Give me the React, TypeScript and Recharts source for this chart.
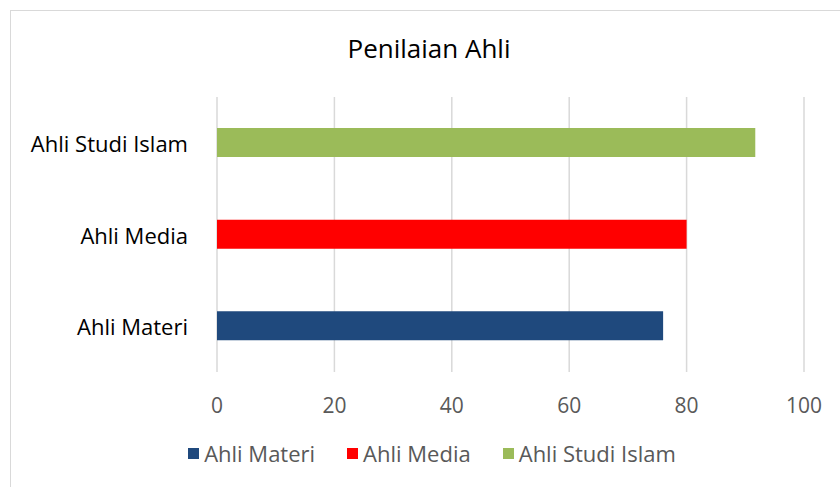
import React from "react";
import { BarChart, Bar, XAxis, YAxis, CartesianGrid, Legend } from "recharts";

const categories = ["Ahli Studi Islam", "Ahli Media", "Ahli Materi"];
const seriesNames = ["Ahli Materi", "Ahli Media", "Ahli Studi Islam"];
const seriesValues = [76, 80, 91.7];
const seriesColors = ["#1F497D", "#FF0000", "#9BBB59"];
const xTicks = [0, 20, 40, 60, 80, 100];
const title = "Penilaian Ahli";

const data = categories.map((cat) => {
  const row: Record<string, any> = { name: cat };
  seriesNames.forEach((s, i) => {
    row[s] = s === cat ? seriesValues[i] : 0;
  });
  return row;
});

const FONT = "'Open Sans', sans-serif";

const LegendContent = () => (
  <div
    style={{
      display: "flex",
      justifyContent: "center",
      alignItems: "center",
      height: 30,
      paddingLeft: 60,
      fontFamily: FONT,
      fontSize: 22,
      color: "#595959",
    }}
  >
    {seriesNames.map((s, i) => (
      <div key={s} style={{ display: "flex", alignItems: "center", marginRight: i < seriesNames.length - 1 ? 32 : 0 }}>
        <div style={{ width: 11, height: 11, background: seriesColors[i], marginRight: 5 }} />
        <span>{s}</span>
      </div>
    ))}
  </div>
);

const XTick = (props: any) => {
  const { x, y, payload } = props;
  return (
    <text x={x} y={y} textAnchor="middle" dominantBaseline="central" fill="#595959" fontFamily={FONT} fontSize={21}>
      {payload.value}
    </text>
  );
};

const YTick = (props: any) => {
  const { x, y, payload } = props;
  return (
    <text x={x} y={y} textAnchor="end" dominantBaseline="central" fill="#000000" fontFamily={FONT} fontSize={22}>
      {payload.value}
    </text>
  );
};

export default function App() {
  return (
    <div style={{ position: "absolute", left: 0, top: 0, width: 840, height: 487, overflow: "hidden", background: "#fff" }}>
      <div
        style={{
          position: "absolute",
          left: 10,
          top: 10,
          width: 900,
          height: 600,
          border: "1px solid #d9d9d9",
        }}
      />
      <div
        style={{
          position: "absolute",
          left: 0,
          top: 30,
          width: 858,
          textAlign: "center",
          fontFamily: FONT,
          fontSize: 26,
          lineHeight: "36px",
          color: "#000",
        }}
      >
        {title}
      </div>
      <div style={{ position: "absolute", left: 0, top: 0 }}>
        <BarChart
          width={840}
          height={487}
          data={data}
          layout="vertical"
          margin={{ top: 97, right: 36, bottom: 19, left: 0 }}
          barSize={29}
        >
          <CartesianGrid horizontal={false} vertical={true} stroke="#d9d9d9" strokeWidth={1.5} />
          <XAxis
            type="number"
            domain={[0, 100]}
            ticks={xTicks}
            axisLine={false}
            tickLine={false}
            tickSize={0}
            tickMargin={33}
            height={66}
            tick={<XTick />}
            interval={0}
          />
          <YAxis
            type="category"
            dataKey="name"
            width={217}
            axisLine={false}
            tickLine={false}
            tickSize={0}
            tickMargin={29}
            tick={<YTick />}
          />
          <Legend verticalAlign="bottom" height={30} content={<LegendContent />} />
          {seriesNames.map((s, i) => (
            <Bar key={s} dataKey={s} stackId="a" fill={seriesColors[i]} isAnimationActive={false} />
          ))}
        </BarChart>
      </div>
    </div>
  );
}
